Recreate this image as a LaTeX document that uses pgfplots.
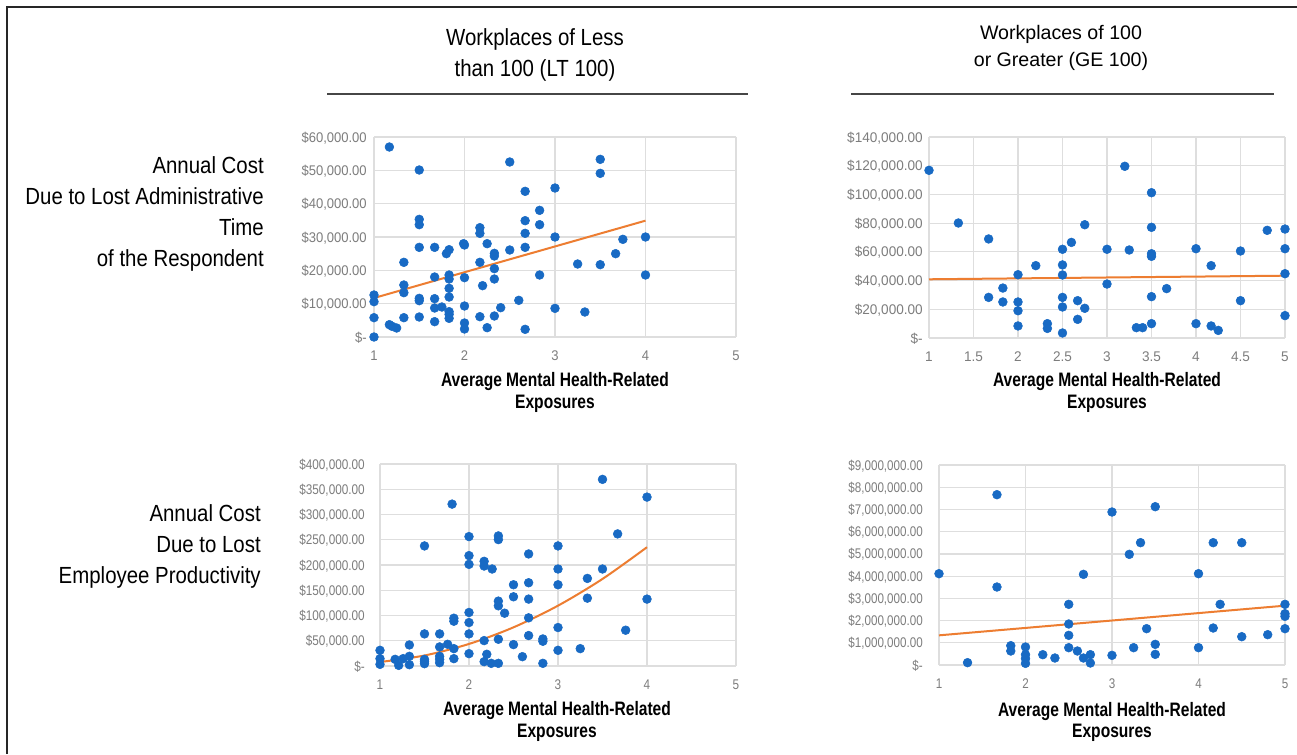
\documentclass[border=0pt]{standalone}
\usepackage{pgfplots}
\pgfplotsset{compat=1.18}
\usepackage{fontspec}
\setmainfont{Liberation Sans}
\newfontfamily\rowfont[FakeStretch=0.875]{Liberation Sans}
\newfontfamily\labfont[FakeStretch=0.8]{Liberation Sans}
\newfontfamily\tickA[FakeStretch=0.93]{Liberation Sans}
\newfontfamily\tickB[FakeStretch=0.97]{Liberation Sans}
\newfontfamily\tickC[FakeStretch=0.84]{Liberation Sans}
\newfontfamily\tickD[FakeStretch=0.83]{Liberation Sans}
\definecolor{dotblue}{RGB}{24,106,196}
\definecolor{trend}{RGB}{237,125,49}
\definecolor{gridgray}{RGB}{222,222,222}
\definecolor{tickgray}{RGB}{125,125,125}
\definecolor{rulegray}{RGB}{70,70,70}
\pgfplotsset{
  panel/.style={
    scale only axis,
    axis line style={draw=none},
    grid=major,
    major grid style={draw=gridgray, line width=0.9pt},
    tick style={draw=none},
    major tick length=0pt,
    scaled x ticks=false,
    scaled y ticks=false,
    clip=false,
    xticklabel style={anchor=base, inner sep=0pt, yshift=-17.25pt, text=tickgray},
    yticklabel style={anchor=base east, inner sep=0pt, yshift=-3.75pt, text=tickgray},
  },
  dots/.style={only marks, mark=*, mark size=3.3pt, mark options={fill=dotblue, draw=dotblue}},
  trendline/.style={no marks, draw=trend, line width=1.5pt},
}
\pgfplotstableread{
x y
1.17 57000
1.5 50100
2.5 52500
3.5 53300
3.5 49100
2.67 43700
3.0 44700
2.83 38000
2.83 33700
2.67 34900
2.67 31100
2.67 26900
1.5 35300
1.5 33700
1.5 26900
1.67 26900
1.8 25000
1.83 26200
1.99 28000
2.0 27600
2.17 32800
2.17 31100
2.25 28000
2.33 25100
2.33 24300
2.33 20500
2.33 17400
2.5 26100
3.0 30000
3.75 29300
3.67 25000
4.0 30000
4.0 18600
3.25 21900
3.5 21700
2.83 18600
2.17 22400
2.2 15400
2.0 17800
1.83 18600
1.83 17400
1.83 14600
1.83 12000
1.83 7600
1.83 5600
1.83 6800
1.75 9000
1.67 18000
1.67 11500
1.67 8700
1.67 4600
1.33 22400
1.33 15600
1.33 13300
1.33 5800
1.5 11600
1.5 10900
1.5 6000
1.0 12600
1.0 10600
1.0 5800
1.0 0
1.17 3700
1.2 3200
1.25 2700
2.0 9300
2.0 4200
2.0 2400
2.17 6100
2.25 2800
2.33 6300
2.4 8800
2.6 11000
2.67 2300
3.0 8600
3.33 7500
}\tlData
\pgfplotstableread{
x y
1.0 116800
1.33 80100
1.67 69000
1.67 28300
1.83 34800
1.83 25100
2.0 44100
2.0 25100
2.0 19000
2.0 8400
2.2 50400
2.33 10000
2.33 6700
2.5 61800
2.5 50900
2.5 43900
2.5 28300
2.5 21600
2.5 3500
2.6 66600
2.67 26000
2.67 13000
2.75 78900
2.75 20700
3.0 61800
3.0 37600
3.2 119600
3.25 61300
3.33 7200
3.4 7200
3.5 101200
3.5 77100
3.5 58700
3.5 56900
3.5 28800
3.5 10000
3.67 34400
4.0 62200
4.0 10000
4.17 50400
4.17 8400
4.25 5300
4.5 60600
4.5 26000
4.8 75000
5.0 75900
5.0 62200
5.0 44800
5.0 15600
}\trData
\pgfplotstableread{
x y
3.5 369600
4.0 334500
1.81 320600
2.0 256300
2.33 257600
2.33 250300
1.5 237800
3.67 261600
3.0 237800
2.67 221900
2.0 218600
2.0 201300
2.17 207300
2.17 198000
2.26 192100
3.0 192100
3.5 192100
3.33 173500
2.5 160900
2.67 164900
3.0 160900
2.5 137100
2.67 132500
3.33 134400
4.0 132500
2.33 128500
2.33 119200
2.4 104600
2.0 106000
2.0 86100
1.83 94700
1.83 88700
2.67 95400
3.76 70900
3.0 76200
1.5 63600
1.67 63600
2.0 63600
2.67 60300
2.83 53600
2.83 49000
2.33 53000
2.17 50300
1.76 43000
1.33 41700
1.67 37800
2.5 42400
3.25 34400
3.0 31100
1.0 31100
1.83 34400
2.0 24500
1.83 14600
2.2 23200
2.6 18500
1.67 19200
1.67 6600
1.5 13200
1.5 4600
1.33 19200
1.33 2600
1.0 14600
1.0 3300
1.17 13200
1.21 1300
1.26 14600
2.17 8600
2.25 5300
2.33 5300
2.83 5300
1.5 9300
1.67 13200
}\blData
\pgfplotstableread{
x y
1.67 7665000
3.5 7125000
3.0 6885000
4.17 5505000
4.5 5505000
3.33 5505000
3.2 4980000
1.0 4110000
2.67 4080000
4.0 4110000
1.67 3510000
2.5 2730000
4.25 2730000
5.0 2730000
5.0 2310000
5.0 2190000
2.5 1845000
2.5 1335000
3.4 1635000
4.17 1665000
5.0 1635000
4.5 1275000
4.8 1365000
3.5 930000
3.5 480000
4.0 780000
3.25 780000
2.5 780000
2.6 630000
1.83 870000
1.83 630000
2.0 810000
2.0 465000
2.0 285000
2.0 75000
2.2 465000
2.34 315000
2.67 315000
2.75 465000
2.75 90000
3.0 435000
1.33 105000
}\brData
\begin{document}
\begin{tikzpicture}
\useasboundingbox (0pt,0pt) rectangle (972.75pt,-565.5pt);
\fill[white] (0pt,0pt) rectangle (972.75pt,-565.5pt);

% top-left
\begin{axis}[panel, at={(280.5pt,-252.75pt)}, anchor=south west,
  width=271.5pt, height=150pt,
  xmin=1, xmax=5, ymin=0, ymax=60000,
  xtick={1,2,3,4,5}, xticklabels={1,2,3,4,5},
  ytick={0,10000,20000,30000,40000,50000,60000},
  yticklabels={{\$-\hspace{11.25pt}},{\$10,000.00},{\$20,000.00},{\$30,000.00},{\$40,000.00},{\$50,000.00},{\$60,000.00}},
  ticklabel style={font=\tickA\fontsize{10.5pt}{12pt}\selectfont},
  yticklabel style={xshift=-5.25pt}]
\addplot[dots] table[x=x,y=y] {\tlData};
\addplot[trendline] coordinates {(1,11700) (4,34900)};
\end{axis}

% top-right
\begin{axis}[panel, at={(696.75pt,-253.5pt)}, anchor=south west,
  width=267pt, height=150.75pt,
  xmin=1, xmax=5, ymin=0, ymax=140000,
  xtick={1,1.5,2,2.5,3,3.5,4,4.5,5}, xticklabels={1,1.5,2,2.5,3,3.5,4,4.5,5},
  ytick={0,20000,40000,60000,80000,100000,120000,140000},
  yticklabels={{\$-\hspace{11.25pt}},{\$20,000.00},{\$40,000.00},{\$60,000.00},{\$80,000.00},{\$100,000.00},{\$120,000.00},{\$140,000.00}},
  ticklabel style={font=\tickB\fontsize{10.5pt}{12pt}\selectfont},
  yticklabel style={xshift=-4.5pt}]
\addplot[dots] table[x=x,y=y] {\trData};
\addplot[trendline] coordinates {(1,40900) (5,43400)};
\end{axis}

% bottom-left
\begin{axis}[panel, at={(285pt,-499.5pt)}, anchor=south west,
  width=267pt, height=151.5pt,
  xmin=1, xmax=5, ymin=0, ymax=400000,
  xtick={1,2,3,4,5}, xticklabels={1,2,3,4,5},
  ytick={0,50000,100000,150000,200000,250000,300000,350000,400000},
  yticklabels={{\$-\hspace{4.5pt}},{\$50,000.00},{\$100,000.00},{\$150,000.00},{\$200,000.00},{\$250,000.00},{\$300,000.00},{\$350,000.00},{\$400,000.00}},
  ticklabel style={font=\tickC\fontsize{10.5pt}{12pt}\selectfont},
  yticklabel style={xshift=-11.25pt}]
\addplot[dots] table[x=x,y=y] {\blData};
\addplot[trendline, smooth] coordinates {(1,7900) (1.5,20800) (2,43700) (2.5,76600) (3,119500) (3.5,172400) (4,235300)};
\end{axis}

% bottom-right
\begin{axis}[panel, at={(704.25pt,-498.75pt)}, anchor=south west,
  width=259.5pt, height=150pt,
  xmin=1, xmax=5, ymin=0, ymax=9000000,
  xtick={1,2,3,4,5}, xticklabels={1,2,3,4,5},
  ytick={0,1000000,2000000,3000000,4000000,5000000,6000000,7000000,8000000,9000000},
  yticklabels={{\$-\hspace{1.5pt}},{\$1,000,000.00},{\$2,000,000.00},{\$3,000,000.00},{\$4,000,000.00},{\$5,000,000.00},{\$6,000,000.00},{\$7,000,000.00},{\$8,000,000.00},{\$9,000,000.00}},
  ticklabel style={font=\tickD\fontsize{10.5pt}{12pt}\selectfont},
  yticklabel style={xshift=-12pt}]
\addplot[dots] table[x=x,y=y] {\brData};
\addplot[trendline] coordinates {(1,1335000) (5,2670000)};
\end{axis}

\begin{scope}[x=0.75pt, y=-0.75pt]
% frame
\draw[line width=1.5pt, black!85] (6.5,754) -- (6.5,6.5) -- (1297,6.5);
% rules
\draw[line width=1.1pt, rulegray] (327,94) -- (748,94);
\draw[line width=1.1pt, rulegray] (851,94) -- (1274,94);
% column titles
\node[anchor=base, inner sep=0pt, font=\rowfont\fontsize{17.5pt}{20pt}\selectfont] at (535,45) {Workplaces of Less};
\node[anchor=base, inner sep=0pt, font=\rowfont\fontsize{17.5pt}{20pt}\selectfont] at (535,76) {than 100 (LT 100)};
\node[anchor=base, inner sep=0pt, font=\fontsize{14.7pt}{17pt}\selectfont] at (1061,39.5) {Workplaces of 100};
\node[anchor=base, inner sep=0pt, font=\fontsize{14.7pt}{17pt}\selectfont] at (1061,66.5) {or Greater (GE 100)};
% row labels
\node[anchor=base east, inner sep=0pt, font=\rowfont\fontsize{17.5pt}{20pt}\selectfont] at (264,173.5) {Annual Cost};
\node[anchor=base east, inner sep=0pt, font=\rowfont\fontsize{17.5pt}{20pt}\selectfont] at (264,204.5) {Due to Lost Administrative};
\node[anchor=base east, inner sep=0pt, font=\rowfont\fontsize{17.5pt}{20pt}\selectfont] at (264,235.5) {Time};
\node[anchor=base east, inner sep=0pt, font=\rowfont\fontsize{17.5pt}{20pt}\selectfont] at (264,266.5) {of the Respondent};
\node[anchor=base east, inner sep=0pt, font=\rowfont\fontsize{17.5pt}{20pt}\selectfont] at (261,521) {Annual Cost};
\node[anchor=base east, inner sep=0pt, font=\rowfont\fontsize{17.5pt}{20pt}\selectfont] at (261,552.5) {Due to Lost};
\node[anchor=base east, inner sep=0pt, font=\rowfont\fontsize{17.5pt}{20pt}\selectfont] at (261,583.5) {Employee Productivity};
% x axis labels
\foreach \cx/\by in {555/386.7, 1107/386.7, 557/715.7, 1112/716} {
  \node[anchor=base, inner sep=0pt, font=\labfont\bfseries\fontsize{14.6pt}{17pt}\selectfont] at (\cx,\by) {Average Mental Health-Related};
  \node[anchor=base, inner sep=0pt, font=\labfont\bfseries\fontsize{14.6pt}{17pt}\selectfont] at (\cx,\by+21.5) {Exposures};
}
\end{scope}
\end{tikzpicture}
\end{document}
